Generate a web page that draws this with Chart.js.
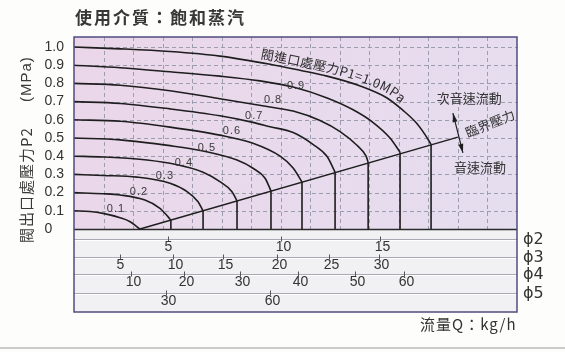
<!DOCTYPE html>
<html>
<head>
<meta charset="utf-8">
<script src="https://cdn.jsdelivr.net/npm/chart.js@4.4.1/dist/chart.umd.min.js"></script>
<style>
html,body{margin:0;padding:0;background:#fdfdfc;}
canvas{display:block;}
</style>
</head>
<body>
<canvas id="c" width="565" height="352"></canvas>
<script>
// ---------------- data ----------------
const titleText = '使用介質：飽和蒸汽';
const yTitleMain = '閥出口處壓力P2';
const yTitleUnit = '(MPa)';
const xTitleText = '流量Q：kg/h';
const p1Title = '閥進口處壓力P1=1.0MPa';
const subsonicText = '次音速流動';
const sonicText = '音速流動';
const criticalText = '臨界壓力';

const yTicks = [0, 0.1, 0.2, 0.3, 0.4, 0.5, 0.6, 0.7, 0.8, 0.9, 1.0];
const xGridMax = 15;

// curves: [relative flow (grid units), outlet pressure P2 (MPa)]
const curve01 = [[0,0.1],[0.54,0.096],[0.98,0.086],[1.56,0.062],[1.90,0.040],[2.17,0.007],[2.235,0]];
const curve02 = [[0,0.2],[0.98,0.194],[1.56,0.187],[2.40,0.159],[2.91,0.114],[3.18,0.068],[3.28,0.049]];
const curve03 = [[0,0.3],[0.98,0.294],[2.13,0.285],[3.25,0.251],[3.83,0.205],[4.20,0.150],[4.37,0.099]];
const curve04 = [[0,0.4],[0.98,0.396],[2.13,0.385],[3.25,0.361],[4.37,0.312],[4.94,0.260],[5.35,0.205],[5.52,0.154]];
const curve05 = [[0,0.5],[1.56,0.490],[3.25,0.458],[4.37,0.429],[5.52,0.379],[6.06,0.334],[6.47,0.279],[6.67,0.209]];
const curve06 = [[0,0.6],[1.56,0.592],[3.25,0.560],[4.94,0.516],[6.06,0.471],[6.98,0.400],[7.42,0.335],[7.72,0.258]];
const curve07 = [[0,0.7],[1.56,0.690],[3.25,0.660],[4.94,0.622],[6.06,0.586],[6.64,0.562],[7.42,0.530],[8.09,0.465],[8.57,0.398],[8.84,0.312]];
const curve08 = [[0,0.8],[1.56,0.790],[3.25,0.760],[4.94,0.716],[6.64,0.670],[7.42,0.648],[8.33,0.596],[9.01,0.535],[9.58,0.460],[9.89,0.400],[9.96,0.366]];
const curve09 = [[0,0.9],[1.56,0.886],[3.25,0.864],[4.94,0.840],[6.30,0.814],[7.42,0.780],[8.57,0.720],[9.45,0.655],[10.13,0.585],[10.70,0.500],[11.04,0.422]];
const curve10 = [[0,1.0],[1.56,0.990],[3.25,0.975],[4.94,0.950],[6.64,0.905],[7.65,0.872],[8.57,0.840],[9.69,0.786],[10.60,0.720],[11.14,0.652],[11.58,0.585],[11.88,0.520],[12.09,0.465]];
const curves = [curve01, curve02, curve03, curve04, curve05, curve06, curve07, curve08, curve09, curve10];

const criticalLine = [[2.235, 0], [13.0, 0.505]];

const curveLabelText = ['0.1','0.2','0.3','0.4','0.5','0.6','0.7','0.8','0.9'];
const curveLabelAt = [[1.42,0.110],[2.20,0.203],[3.08,0.291],[3.72,0.363],[4.50,0.445],[5.35,0.538],[6.10,0.621],[6.74,0.709],[7.52,0.786]];

// nozzle flow scales (kg/h) and where their ticks sit on the flow axis
const nozzleNames = ['ϕ2','ϕ3','ϕ4','ϕ5'];
const phi2Vals = [5,10,15],            phi2At = [3.18,7.01,10.36];
const phi3Vals = [5,10,15,20,25,30],   phi3At = [1.56,3.35,5.05,6.87,8.64,10.33];
const phi4Vals = [10,20,30,40,50,60],  phi4At = [1.93,3.72,5.62,7.59,9.52,11.18];
const phi5Vals = [30,60],              phi5At = [3.12,6.64];

// annotations in data units
const subsonicAt = [13.38, 0.72];
const sonicAt = [13.75, 0.341];
const criticalAt = [14.09, 0.58];
const arrowFrom = [12.83, 0.637];
const arrowTo = [13.17, 0.418];
const p1TitleStart = 6.3;

// ---------------- drawing ----------------
const CJK = '"Noto Sans CJK TC", "Noto Sans CJK SC", sans-serif';
const LAT = '"Liberation Sans", Arial, sans-serif';
const LINE = '#1e1e1e';

function text(ctx, s, x, y, font, color, align, base, ls) {
  ctx.save();
  ctx.font = font; ctx.fillStyle = color;
  ctx.textAlign = align || 'center'; ctx.textBaseline = base || 'middle';
  ctx.letterSpacing = ls || '0px';
  ctx.fillText(s, x, y);
  ctx.restore();
}

function textOnCurve(chart, dsIndex, str, startX, offset, font, spacing, color) {
  const ctx = chart.ctx;
  const pts = chart.getDatasetMeta(dsIndex).data;
  const samp = [];
  for (let i = 0; i < pts.length - 1; i++) {
    const a = pts[i], b = pts[i + 1];
    const c1x = a.cp2x ?? a.x, c1y = a.cp2y ?? a.y, c2x = b.cp1x ?? b.x, c2y = b.cp1y ?? b.y;
    for (let k = 0; k < 24; k++) {
      const t = k / 24, m = 1 - t;
      samp.push({
        x: m*m*m*a.x + 3*m*m*t*c1x + 3*m*t*t*c2x + t*t*t*b.x,
        y: m*m*m*a.y + 3*m*m*t*c1y + 3*m*t*t*c2y + t*t*t*b.y
      });
    }
  }
  const last = pts[pts.length - 1];
  samp.push({x: last.x, y: last.y});
  const off = samp.map((p, i) => {
    const p0 = samp[Math.max(0, i - 1)], p1 = samp[Math.min(samp.length - 1, i + 1)];
    let tx = p1.x - p0.x, ty = p1.y - p0.y;
    const L = Math.hypot(tx, ty) || 1; tx /= L; ty /= L;
    return {x: p.x + ty * offset, y: p.y - tx * offset};
  });
  const cum = [0];
  for (let i = 1; i < off.length; i++) cum.push(cum[i-1] + Math.hypot(off[i].x - off[i-1].x, off[i].y - off[i-1].y));
  let s = 0;
  for (let i = 0; i < off.length; i++) { if (off[i].x >= startX) { s = cum[i]; break; } }
  const at = (d) => {
    let i = 0;
    while (i < cum.length - 2 && cum[i + 1] < d) i++;
    const seg = (cum[i + 1] - cum[i]) || 1;
    const f = Math.min(1, Math.max(0, (d - cum[i]) / seg));
    return {
      x: off[i].x + (off[i+1].x - off[i].x) * f,
      y: off[i].y + (off[i+1].y - off[i].y) * f,
      a: Math.atan2(off[i+1].y - off[i].y, off[i+1].x - off[i].x)
    };
  };
  ctx.save();
  ctx.font = font; ctx.fillStyle = color; ctx.textAlign = 'center'; ctx.textBaseline = 'alphabetic';
  for (const ch of str) {
    const w = ctx.measureText(ch).width;
    const p = at(s + w / 2);
    ctx.save(); ctx.translate(p.x, p.y); ctx.rotate(p.a); ctx.fillText(ch, 0, 0); ctx.restore();
    s += w + spacing;
  }
  ctx.restore();
}

const backdrop = {
  id: 'backdrop',
  beforeDatasetsDraw(chart) {
    const {ctx, chartArea: a, scales: {x, y}} = chart;
    const y0 = Math.round(y.getPixelForValue(0));
    ctx.save();
    const g = ctx.createLinearGradient(a.left, a.top, a.right, y0);
    g.addColorStop(0, '#ebd6e9'); g.addColorStop(1, '#e5deef');
    ctx.fillStyle = g; ctx.fillRect(a.left, a.top, a.right - a.left, y0 - a.top);
    ctx.fillStyle = '#f1f1f4'; ctx.fillRect(a.left, y0, a.right - a.left, a.bottom - y0);

    // dashed grid in the pressure region
    ctx.strokeStyle = '#9d9db0'; ctx.lineWidth = 1; ctx.setLineDash([4, 3]);
    ctx.beginPath();
    yTicks.forEach(v => {
      if (v === 0) return;
      const py = Math.round(y.getPixelForValue(v)) + 0.5;
      ctx.moveTo(a.left, py); ctx.lineTo(a.right, py);
    });
    for (let k = 1; k < xGridMax; k++) {
      const px = Math.round(x.getPixelForValue(k)) + 0.5;
      ctx.moveTo(px, a.top); ctx.lineTo(px, y0);
    }
    ctx.stroke();
    ctx.setLineDash([]);

    // nozzle bands
    const bandOff = [10, 28, 45, 64];
    const rows = [[phi2Vals, phi2At], [phi3Vals, phi3At], [phi4Vals, phi4At], [phi5Vals, phi5At]];
    bandOff.forEach((o, r) => {
      const ly = y0 + o + 0.5;
      ctx.strokeStyle = '#a9a9b3'; ctx.lineWidth = 1;
      ctx.beginPath(); ctx.moveTo(a.left, ly); ctx.lineTo(a.right, ly); ctx.stroke();
      ctx.strokeStyle = '#ffffff';
      ctx.beginPath(); ctx.moveTo(a.left, ly + 1); ctx.lineTo(a.right, ly + 1); ctx.stroke();
      const [vals, pos] = rows[r];
      vals.forEach((v, i) => {
        const px = Math.round(x.getPixelForValue(pos[i])) + 0.5;
        ctx.strokeStyle = '#555'; ctx.beginPath(); ctx.moveTo(px, ly - 3); ctx.lineTo(px, ly + 2); ctx.stroke();
        const lbl = String(v);
        text(ctx, lbl, px + (lbl.length > 1 ? 2 : 0), ly + 8, '14px ' + LAT, '#333');
      });
      text(ctx, nozzleNames[r], a.right + 6, ly, '16px "DejaVu Sans", sans-serif', '#333', 'left', 'middle');
    });

    // zero line
    ctx.strokeStyle = '#2a2a2a'; ctx.lineWidth = 1.5;
    ctx.beginPath(); ctx.moveTo(a.left, y0 + 0.5); ctx.lineTo(a.right, y0 + 0.5); ctx.stroke();
    ctx.restore();
  },
  afterDatasetsDraw(chart) {
    const {ctx, chartArea: a, scales: {x, y}} = chart;
    ctx.save();
    ctx.strokeStyle = '#4f4c7c'; ctx.lineWidth = 1.5;
    ctx.strokeRect(a.left, a.top, a.right - a.left, a.bottom - a.top);

    // curve labels
    curveLabelText.forEach((t, i) => {
      text(ctx, t, x.getPixelForValue(curveLabelAt[i][0]), y.getPixelForValue(curveLabelAt[i][1]),
        '11px ' + LAT, '#3a3a3a', 'center', 'middle', '1px');
    });

    // annotations
    text(ctx, subsonicText, x.getPixelForValue(subsonicAt[0]), y.getPixelForValue(subsonicAt[1]), '13px ' + CJK, '#333');
    text(ctx, sonicText, x.getPixelForValue(sonicAt[0]), y.getPixelForValue(sonicAt[1]), '13px ' + CJK, '#333');
    ctx.save();
    ctx.translate(x.getPixelForValue(criticalAt[0]), y.getPixelForValue(criticalAt[1]));
    ctx.rotate(-22 * Math.PI / 180);
    text(ctx, criticalText, 0, 0, '13px ' + CJK, '#333');
    ctx.restore();

    // double arrow
    const ax = x.getPixelForValue(arrowFrom[0]), ay = y.getPixelForValue(arrowFrom[1]);
    const bx = x.getPixelForValue(arrowTo[0]), by = y.getPixelForValue(arrowTo[1]);
    ctx.strokeStyle = LINE; ctx.fillStyle = LINE; ctx.lineWidth = 1.2;
    ctx.beginPath(); ctx.moveTo(ax, ay); ctx.lineTo(bx, by); ctx.stroke();
    const ang = Math.atan2(by - ay, bx - ax);
    const head = (px, py, dir) => {
      ctx.save(); ctx.translate(px, py); ctx.rotate(dir);
      ctx.beginPath(); ctx.moveTo(0, 0); ctx.lineTo(-9, -2.5); ctx.lineTo(-9, 2.5); ctx.closePath(); ctx.fill();
      ctx.restore();
    };
    head(bx, by, ang); head(ax, ay, ang + Math.PI);

    // inlet pressure label along the 1.0 curve
    textOnCurve(chart, 9, p1Title, x.getPixelForValue(p1TitleStart), 4, '13px ' + CJK, 0.3, '#2e2e2e');
    ctx.restore();
  },
  afterDraw(chart) {
    const {ctx} = chart;
    text(ctx, titleText, 75, 18, 'bold 17px ' + CJK, '#383838', 'left', 'middle', '2px');
    // y title
    ctx.save();
    ctx.translate(26, 243); ctx.rotate(-Math.PI / 2);
    text(ctx, yTitleMain, 0, 0, '15px ' + CJK, '#3a3a3a', 'left', 'middle', '1px');
    ctx.restore();
    ctx.save();
    ctx.translate(27, 102); ctx.rotate(-Math.PI / 2);
    text(ctx, yTitleUnit, 0, 0, '15px ' + LAT, '#3a3a3a', 'left', 'middle', '1px');
    ctx.restore();
    text(ctx, xTitleText, 420, 324, '15px ' + CJK, '#333', 'left', 'middle', '1px');
    ctx.save(); ctx.fillStyle = '#cbcbcb'; ctx.fillRect(0, 347, 565, 2); ctx.restore();
  }
};

const datasets = [];
curves.forEach(c => datasets.push({
  data: c, borderColor: LINE, borderWidth: 1.6, pointRadius: 0,
  cubicInterpolationMode: 'monotone', fill: false
}));
curves.forEach(c => {
  const e = c[c.length - 1];
  if (e[1] > 0) datasets.push({data: [[e[0], e[1]], [e[0], 0]], borderColor: LINE, borderWidth: 1.6, pointRadius: 0, tension: 0});
});
datasets.push({data: criticalLine, borderColor: LINE, borderWidth: 1.5, pointRadius: 0, tension: 0});

new Chart(document.getElementById('c'), {
  type: 'line',
  data: {datasets},
  plugins: [backdrop],
  options: {
    responsive: false, animation: false, devicePixelRatio: 1,
    layout: {padding: {left: 0, top: 37, right: 48, bottom: 40}},
    plugins: {legend: {display: false}, tooltip: {enabled: false}, title: {display: false}},
    elements: {line: {capBezierPoints: true}},
    scales: {
      x: {type: 'linear', min: 0, max: xGridMax, display: false},
      y: {
        type: 'linear', min: -0.456, max: 1.055,
        grid: {display: false, drawTicks: false}, border: {display: false},
        afterBuildTicks: s => { s.ticks = yTicks.map(v => ({value: v})); },
        afterFit: s => { s.width = 74; },
        ticks: {
          crossAlign: 'near', padding: 10, color: '#333', autoSkip: false,
          font: {family: LAT, size: 14},
          callback: v => v === 0 ? '0   ' : v.toFixed(1)
        }
      }
    }
  }
});
</script>
</body>
</html>
